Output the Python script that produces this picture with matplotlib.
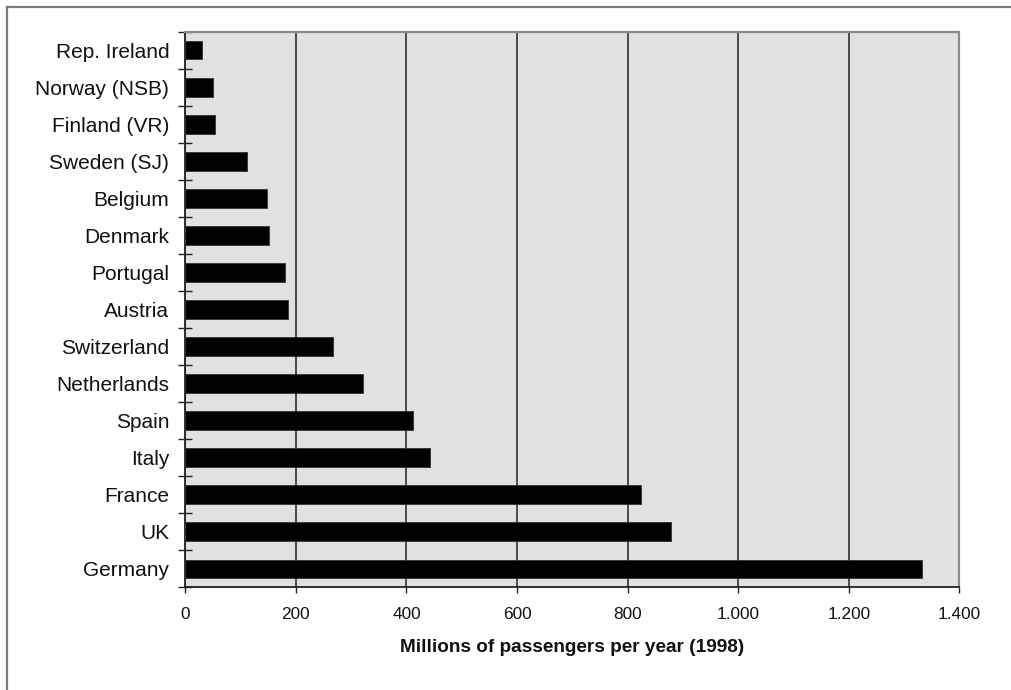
import matplotlib
matplotlib.use("Agg")
import matplotlib.pyplot as plt
from matplotlib.lines import Line2D
from matplotlib.ticker import FuncFormatter, FixedLocator
import numpy as np

plt.rcParams['font.family'] = ['Liberation Sans', 'DejaVu Sans']

countries = ["Rep. Ireland", "Norway (NSB)", "Finland (VR)", "Sweden (SJ)",
             "Belgium", "Denmark", "Portugal", "Austria", "Switzerland",
             "Netherlands", "Spain", "Italy", "France", "UK", "Germany"]
passengers = [30, 50, 53, 112, 148, 152, 181, 186, 267,
              321, 412, 442, 825, 879, 1333]
x_ticks = [0, 200, 400, 600, 800, 1000, 1200, 1400]
x_label = "Millions of passengers per year (1998)"

W, H = 1011, 690
fig = plt.figure(figsize=(W / 100, H / 100), dpi=100)
fig.patch.set_facecolor("white")

# outer chart frame (top and left edges)
fig.add_artist(Line2D([6.7 / W, 6.7 / W], [0, 1 - 6.7 / H], transform=fig.transFigure,
                      color="#7a7a7a", lw=1.6))
fig.add_artist(Line2D([6.7 / W, 1], [1 - 6.7 / H, 1 - 6.7 / H], transform=fig.transFigure,
                      color="#7a7a7a", lw=1.6))

left, right, top, bottom = 185.3, 959.3, 31.7, 587.3
ax = fig.add_axes([left / W, 1 - bottom / H, (right - left) / W, (bottom - top) / H])
ax.set_facecolor("#e1e1e1")

y = np.arange(len(countries))
ax.barh(y, passengers, height=0.5, color="black", edgecolor="#333333", linewidth=0.6, zorder=3)

ax.set_xlim(x_ticks[0], x_ticks[-1])
ax.set_ylim(len(countries) - 0.5, -0.5)

ax.xaxis.set_major_locator(FixedLocator(x_ticks))
ax.xaxis.set_major_formatter(FuncFormatter(lambda v, p: f"{v:,.0f}".replace(",", ".")))
ax.grid(axis="x", color="#4a4a4a", lw=1.4, zorder=1)
ax.set_axisbelow(True)

ax.set_yticks(y)
ax.set_yticklabels(countries, fontsize=15, color="#111111")
ax.set_yticks(np.arange(-0.5, len(countries), 1.0), minor=True)
ax.tick_params(axis="y", which="major", length=0, pad=11.5)
ax.tick_params(axis="y", which="minor", direction="inout", length=10, width=1.0, color="#222222")
ax.tick_params(axis="x", which="major", direction="out", length=4.5, width=1.0,
               color="#222222", labelsize=12.4, pad=9.5, labelcolor="#111111")

ax.set_xlabel(x_label, fontsize=13.7, fontweight="bold", labelpad=12.5, color="#111111")

for side in ("top", "right"):
    ax.spines[side].set_color("#8a8a8a")
    ax.spines[side].set_linewidth(1.6)
for side in ("left", "bottom"):
    ax.spines[side].set_color("#222222")
    ax.spines[side].set_linewidth(1.3)

fig.savefig("out.png", dpi=100)
